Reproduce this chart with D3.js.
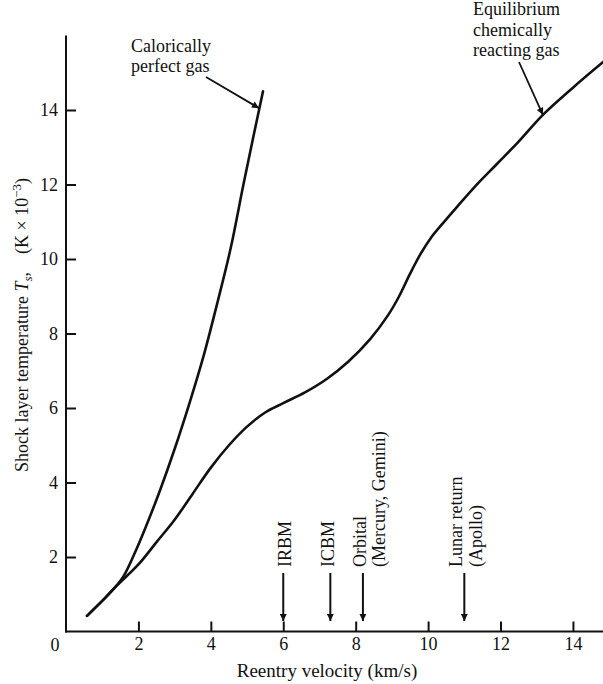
<!DOCTYPE html>
<html>
<head>
<meta charset="utf-8">
<script src="https://cdn.jsdelivr.net/npm/d3@7"></script>
<style>
  html, body { margin: 0; padding: 0; background: #fff; }
  svg { display: block; }
  text { font-family: "Liberation Serif", "Times New Roman", serif; fill: #111; }
</style>
</head>
<body>
<svg id="chart" width="603" height="684"></svg>
<script>
// Reentry velocity (km/s) vs shock layer temperature (thousands of K)
const perfectV = [0.58, 1.0, 1.36, 1.6, 1.85, 2.2, 2.6, 3.0, 3.4, 3.8, 4.2, 4.55, 4.9, 5.2, 5.44];
const perfectT = [0.42, 0.82, 1.19, 1.5, 2.0, 2.8, 3.8, 4.9, 6.1, 7.4, 8.9, 10.3, 12.0, 13.4, 14.5];

const equilV = [0.58, 1.0, 1.36, 2.0, 2.5, 3.0, 3.5, 4.0, 4.5, 5.0, 5.5, 6.0, 6.6, 7.2, 7.8, 8.4, 8.9, 9.2, 9.5, 9.8, 10.1, 10.4, 10.8, 11.3, 11.9, 12.5, 13.17, 14.0, 14.85];
const equilT = [0.42, 0.82, 1.19, 1.8, 2.4, 3.0, 3.7, 4.4, 5.0, 5.5, 5.88, 6.13, 6.42, 6.78, 7.25, 7.85, 8.5, 9.0, 9.6, 10.15, 10.6, 10.95, 11.4, 11.95, 12.55, 13.15, 13.87, 14.6, 15.3];

// Flight regimes marked along the velocity axis
const regimeNames = [["IRBM"], ["ICBM"], ["Orbital", "(Mercury, Gemini)"], ["Lunar return", "(Apollo)"]];
const regimeV = [6.0, 7.3, 8.2, 11.0];

const xTicks = [2, 4, 6, 8, 10, 12, 14];
const yTicks = [2, 4, 6, 8, 10, 12, 14];

// Curve callouts: label lines and the curve point each arrow touches
const perfectLabel = ["Calorically", "perfect gas"];
const perfectArrowAt = [5.33, 14.05];
const equilLabel = ["Equilibrium", "chemically", "reacting gas"];
const equilArrowAt = [13.17, 13.87];

const svg = d3.select("#chart");

const x = d3.scaleLinear().domain([0, 14.83]).range([66, 603]);
const y = d3.scaleLinear().domain([0, 16]).range([631.5, 35.5]);

const defs = svg.append("defs");
defs.append("marker")
  .attr("id", "head")
  .attr("viewBox", "0 0 10 10")
  .attr("refX", 10).attr("refY", 5)
  .attr("markerWidth", 11).attr("markerHeight", 7)
  .attr("markerUnits", "userSpaceOnUse")
  .attr("orient", "auto")
  .append("path")
  .attr("d", "M0,0 L10,5 L0,10 Z")
  .attr("fill", "#111");

// Axes: ticks point inward, no outer domain path
const xAxis = svg.append("g")
  .attr("transform", `translate(0,${y(0)})`)
  .call(d3.axisBottom(x).tickValues(xTicks).tickSize(-10).tickPadding(6).tickFormat(d3.format("d")));
const yAxis = svg.append("g")
  .attr("transform", `translate(${x(0)},0)`)
  .call(d3.axisLeft(y).tickValues(yTicks).tickSize(-10).tickPadding(8).tickFormat(d3.format("d")));

[xAxis, yAxis].forEach(g => {
  g.select(".domain").remove();
  g.selectAll(".tick line").attr("stroke", "#111").attr("stroke-width", 2);
  g.selectAll(".tick text").attr("font-size", 18).attr("fill", "#111")
    .style("font-family", '"Liberation Serif", serif');
});

svg.append("line")
  .attr("x1", x(0)).attr("x2", x(0))
  .attr("y1", y(16)).attr("y2", y(0) + 1)
  .attr("stroke", "#111").attr("stroke-width", 2);
svg.append("line")
  .attr("x1", x(0) - 1).attr("x2", x.range()[1])
  .attr("y1", y(0)).attr("y2", y(0))
  .attr("stroke", "#111").attr("stroke-width", 2);

svg.append("text")
  .attr("x", x(0) - 11).attr("y", y(0) + 19)
  .attr("text-anchor", "middle").attr("font-size", 18)
  .text("0");

// Axis titles
svg.append("text")
  .attr("x", 327).attr("y", 677)
  .attr("text-anchor", "middle").attr("font-size", 19)
  .text("Reentry velocity (km/s)");

const yTitle = svg.append("text")
  .attr("transform", "translate(28,325) rotate(-90)")
  .attr("text-anchor", "middle").attr("font-size", 18);
yTitle.append("tspan").text("Shock layer temperature ");
yTitle.append("tspan").attr("font-style", "italic").text("T");
yTitle.append("tspan").attr("font-style", "italic").attr("font-size", 13).attr("dy", 4).text("s");
yTitle.append("tspan").attr("dy", -4).text(",\u2003(K \u00d7 10");
yTitle.append("tspan").attr("font-size", 13).attr("dy", -7).text("\u22123");
yTitle.append("tspan").attr("dy", 7).text(")");

// Curves
const line = d3.line()
  .x(d => x(d[0])).y(d => y(d[1]))
  .curve(d3.curveCatmullRom.alpha(0.5));

const perfect = perfectV.map((v, i) => [v, perfectT[i]]);
const equil = equilV.map((v, i) => [v, equilT[i]]);

svg.append("path").datum(perfect)
  .attr("d", line).attr("fill", "none")
  .attr("stroke", "#111").attr("stroke-width", 2.6).attr("stroke-linecap", "round");
svg.append("path").datum(equil)
  .attr("d", line).attr("fill", "none")
  .attr("stroke", "#111").attr("stroke-width", 2.6).attr("stroke-linecap", "round");

// Curve callouts
function callout(lines, tx, ty, lineH, from, target) {
  const t = svg.append("text").attr("font-size", 18);
  lines.forEach((s, i) => t.append("tspan").attr("x", tx).attr("y", ty + i * lineH).text(s));
  svg.append("line")
    .attr("x1", from[0]).attr("y1", from[1])
    .attr("x2", x(target[0])).attr("y2", y(target[1]))
    .attr("stroke", "#111").attr("stroke-width", 1.8)
    .attr("marker-end", "url(#head)");
}
callout(perfectLabel, 131, 52, 20, [206, 77], perfectArrowAt);
callout(equilLabel, 473, 15, 20.5, [519, 62], equilArrowAt);

// Regime markers: vertical label(s) above a downward arrow
const lineOffsets = [[7.5], [4], [3.5, 22.5], [-2, 17.5]];
regimeV.forEach((v, i) => {
  const xv = x(v);
  svg.append("line")
    .attr("x1", xv).attr("x2", xv)
    .attr("y1", 573).attr("y2", 621)
    .attr("stroke", "#111").attr("stroke-width", 2)
    .attr("marker-end", "url(#head)");
  regimeNames[i].forEach((s, j) => {
    svg.append("text")
      .attr("transform", `translate(${xv + lineOffsets[i][j]},567) rotate(-90)`)
      .attr("font-size", 18)
      .text(s);
  });
});
</script>
</body>
</html>
